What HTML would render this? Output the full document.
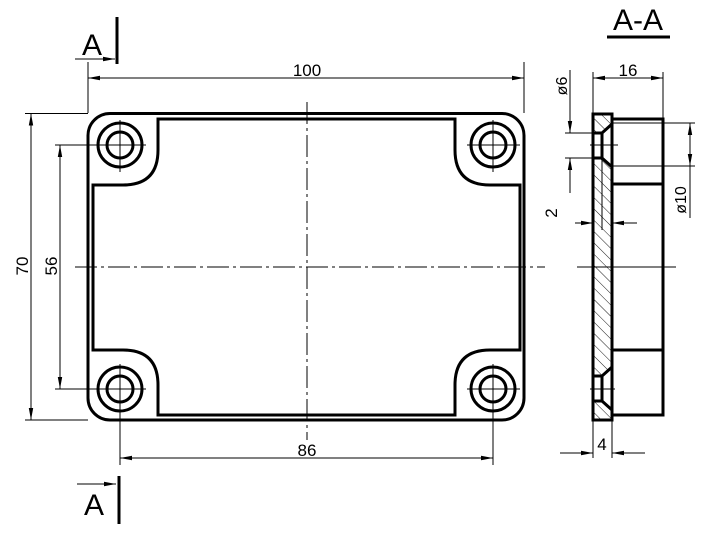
<!DOCTYPE html>
<html><head><meta charset="utf-8"><style>
html,body{margin:0;padding:0;background:#fff;}
svg{display:block;}
text{font-family:"Liberation Sans",sans-serif;fill:#000;}
</style></head><body>
<svg width="714" height="534" viewBox="0 0 714 534" xmlns="http://www.w3.org/2000/svg">
<defs>
<marker id="ar" viewBox="0 0 12 6" refX="12" refY="3" markerWidth="12" markerHeight="6" orient="auto-start-reverse" markerUnits="userSpaceOnUse">
<path d="M0,0.8 L12,3 L0,5.2 Z" fill="#000"/>
</marker>
<pattern id="hatch" width="8" height="8" patternUnits="userSpaceOnUse" patternTransform="rotate(-45)">
<line x1="0" y1="0" x2="0" y2="8" stroke="#000" stroke-width="0.9"/>
</pattern>
</defs>
<g fill="none" stroke="#000">
<!-- front view outer -->
<rect x="88" y="113.5" width="436" height="306.5" rx="22" stroke-width="3"/>
<!-- inner cavity -->
<path d="M158,119 L455,119 L455,150 Q455,185 490,185 L520,185 L520,350 L490,350 Q455,350 455,385 L455,415 L158,415 L158,385 Q158,350 123,350 L93,350 L93,185 L123,185 Q158,185 158,150 Z" stroke-width="3"/>
<!-- holes -->
<g stroke-width="3">
<circle cx="120" cy="145" r="22"/><circle cx="120" cy="145" r="13"/>
<circle cx="493" cy="145" r="22"/><circle cx="493" cy="145" r="13"/>
<circle cx="120" cy="389" r="22"/><circle cx="120" cy="389" r="13"/>
<circle cx="493" cy="389" r="22"/><circle cx="493" cy="389" r="13"/>
</g>
<g stroke-width="1">
<!-- hole centerlines -->
<line x1="80" y1="145" x2="146" y2="145"/><line x1="120" y1="120" x2="120" y2="172"/>
<line x1="467" y1="145" x2="520" y2="145"/><line x1="493" y1="120" x2="493" y2="172"/>
<line x1="80" y1="389" x2="146" y2="389"/><line x1="120" y1="364" x2="120" y2="465"/>
<line x1="467" y1="389" x2="520" y2="389"/><line x1="493" y1="364" x2="493" y2="465"/>
<!-- main centerlines -->
<line x1="307" y1="102" x2="307" y2="440" stroke-dasharray="22,4,3,4"/>
<line x1="75" y1="267" x2="545" y2="267" stroke-dasharray="22,4,3,4"/>
<!-- dim 100 -->
<line x1="88" y1="62" x2="88" y2="113"/><line x1="524" y1="62" x2="524" y2="113"/>
<line x1="88" y1="78" x2="524" y2="78" marker-start="url(#ar)" marker-end="url(#ar)"/>
<!-- dim 70 -->
<line x1="25" y1="113.5" x2="88" y2="113.5"/><line x1="25" y1="420" x2="88" y2="420"/>
<line x1="31" y1="113.5" x2="31" y2="420" marker-start="url(#ar)" marker-end="url(#ar)"/>
<!-- dim 56 -->
<line x1="55" y1="145" x2="98" y2="145"/><line x1="55" y1="389" x2="98" y2="389"/>
<line x1="60" y1="145" x2="60" y2="389" marker-start="url(#ar)" marker-end="url(#ar)"/>
<!-- dim 86 -->
<line x1="120" y1="458" x2="493" y2="458" marker-start="url(#ar)" marker-end="url(#ar)"/>
<!-- section arrows -->
<line x1="75" y1="59" x2="115" y2="59" marker-end="url(#ar)"/>
<line x1="77" y1="484" x2="116" y2="484" marker-end="url(#ar)"/>
</g>
<line x1="117" y1="17" x2="117" y2="64" stroke-width="3"/>
<line x1="119" y1="476" x2="119" y2="524" stroke-width="3"/>
<!-- side view -->
<path d="M593,114 L612,114 L612,420 L593,420 Z M593,133 L602,133 L612,124 M593,158 L602,158 L612,167 M593,376 L602,376 L612,367 M593,401 L602,401 L612,410" stroke-width="0"/>
<rect x="593" y="114" width="19" height="306" fill="url(#hatch)" stroke="none"/>
<rect x="594" y="133" width="8" height="25" fill="#fff" stroke="none"/>
<rect x="594" y="376" width="8" height="25" fill="#fff" stroke="none"/>
<polygon points="602,133 612,124 612,167 602,158" fill="#fff" stroke="none"/>
<polygon points="602,376 612,367 612,410 602,401" fill="#fff" stroke="none"/>
<g stroke-width="3">
<rect x="593" y="114" width="19" height="306"/>
<path d="M612,119 L663,119 L663,415 L612,415"/>
<line x1="612" y1="184" x2="663" y2="184"/>
<line x1="612" y1="350" x2="663" y2="350"/>
<path d="M593,133 L602,133 L612,124 M602,133 L602,158 M593,158 L602,158 L612,167"/>
<path d="M593,376 L602,376 L612,367 M602,376 L602,401 M593,401 L602,401 L612,410"/>
</g>
<g stroke-width="1">
<line x1="590" y1="145" x2="618" y2="145"/>
<line x1="590" y1="389" x2="615" y2="389"/>
<line x1="602" y1="140" x2="602" y2="230"/>
<line x1="577" y1="267" x2="676" y2="267"/>
<!-- 16 -->
<line x1="593" y1="72" x2="593" y2="114"/><line x1="663" y1="72" x2="663" y2="119"/>
<line x1="593" y1="78" x2="663" y2="78" marker-start="url(#ar)" marker-end="url(#ar)"/>
<!-- ø6 -->
<line x1="565" y1="133" x2="593" y2="133"/><line x1="565" y1="158" x2="593" y2="158"/>
<line x1="570" y1="70" x2="570" y2="133" marker-end="url(#ar)"/>
<line x1="570" y1="193" x2="570" y2="158" marker-end="url(#ar)"/>
<!-- ø10 -->
<line x1="612" y1="123" x2="695" y2="123"/><line x1="612" y1="166" x2="695" y2="166"/>
<line x1="690" y1="123" x2="690" y2="166" marker-start="url(#ar)" marker-end="url(#ar)"/>
<line x1="690" y1="166" x2="690" y2="218"/>
<!-- 2 -->
<line x1="575" y1="223" x2="593" y2="223" marker-end="url(#ar)"/>
<line x1="637" y1="223" x2="612" y2="223" marker-end="url(#ar)"/>
<!-- 4 -->
<line x1="593" y1="420" x2="593" y2="458"/><line x1="612" y1="420" x2="612" y2="458"/>
<line x1="560" y1="453" x2="593" y2="453" marker-end="url(#ar)"/>
<line x1="645" y1="453" x2="612" y2="453" marker-end="url(#ar)"/>
</g>
<line x1="607" y1="37" x2="670" y2="37" stroke-width="3"/>
</g>
<!-- text -->
<text x="307" y="76" font-size="17" text-anchor="middle">100</text>
<text x="307" y="456" font-size="17" text-anchor="middle">86</text>
<text x="628" y="76" font-size="17" text-anchor="middle">16</text>
<text x="602" y="450" font-size="17" text-anchor="middle">4</text>
<text transform="translate(28,266) rotate(-90)" font-size="17" text-anchor="middle">70</text>
<text transform="translate(57,266) rotate(-90)" font-size="17" text-anchor="middle">56</text>
<text transform="translate(567,86) rotate(-90)" font-size="16" text-anchor="middle">ø6</text>
<text transform="translate(686,200) rotate(-90)" font-size="16" text-anchor="middle">ø10</text>
<text transform="translate(557,213) rotate(-90)" font-size="17" text-anchor="middle">2</text>
<text x="92" y="55" font-size="30" text-anchor="middle">A</text>
<text x="94" y="515" font-size="30" text-anchor="middle">A</text>
<text x="638" y="30" font-size="30" text-anchor="middle">A-A</text>
</svg>
</body></html>
